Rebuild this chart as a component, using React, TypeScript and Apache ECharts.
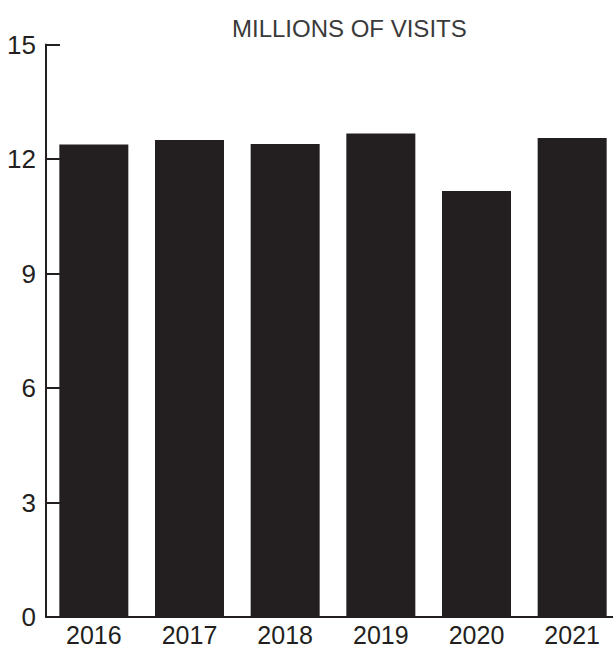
import React, { useEffect, useRef } from "react";
import * as echarts from "echarts";

const years = ["2016", "2017", "2018", "2019", "2020", "2021"];
const visits = [12.38, 12.5, 12.39, 12.67, 11.16, 12.55];
const yTicks = [0, 3, 6, 9, 12, 15];
const titleText = "MILLIONS OF VISITS";

export default function App() {
  const ref = useRef<HTMLDivElement>(null);
  useEffect(() => {
    if (!ref.current) return;
    const chart = echarts.init(ref.current, null, { renderer: "svg" });
    chart.setOption({
      animation: false,
      backgroundColor: "#ffffff",
      title: {
        text: titleText,
        left: 227,
        top: 11,
        textStyle: {
          fontFamily: "Liberation Sans, Arial, sans-serif",
          fontSize: 24,
          fontWeight: "normal",
          color: "#3a3a3a",
        },
      },
      grid: {
        left: 46,
        top: 44.5,
        width: 574,
        height: 572.5,
        outerBoundsMode: "none",
        containLabel: false,
      },
      xAxis: {
        type: "category",
        data: years,
        axisLine: { show: true, lineStyle: { color: "#231f20", width: 2 } },
        axisTick: { show: false },
        axisLabel: {
          fontFamily: "Liberation Sans, Arial, sans-serif",
          fontSize: 25,
          lineHeight: 25,
          color: "#231f20",
          margin: 5,
        },
      },
      yAxis: {
        type: "value",
        min: yTicks[0],
        max: yTicks[yTicks.length - 1],
        interval: 3,
        axisLine: { show: true, lineStyle: { color: "#231f20", width: 2 } },
        axisTick: {
          show: true,
          inside: true,
          length: 14,
          lineStyle: { color: "#231f20", width: 2 },
        },
        splitLine: { show: false },
        axisLabel: {
          fontFamily: "Liberation Sans, Arial, sans-serif",
          fontSize: 26,
          color: "#231f20",
          margin: 10,
        },
      },
      series: [
        {
          type: "bar",
          data: visits,
          barWidth: 69,
          itemStyle: { color: "#231f20" },
        },
      ],
    });
    return () => chart.dispose();
  }, []);
  return (
    <div
      ref={ref}
      style={{ position: "absolute", left: 0, top: 0, width: 613, height: 648 }}
    />
  );
}
